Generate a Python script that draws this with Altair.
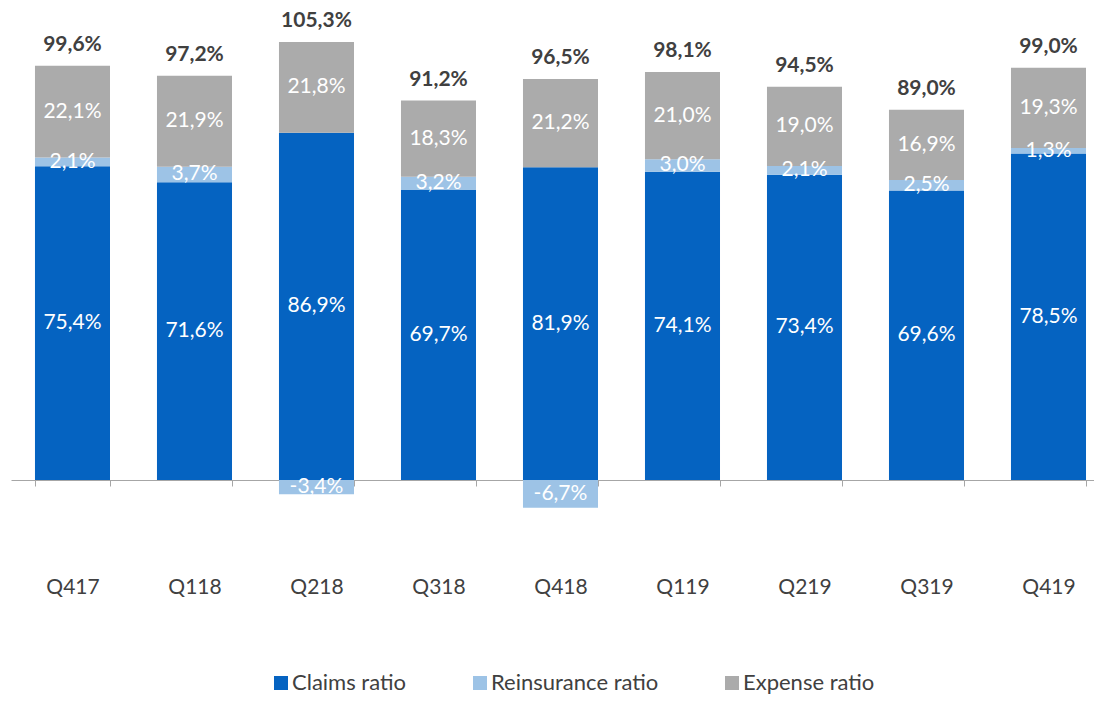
import altair as alt
import pandas as pd

quarters = ["Q417", "Q118", "Q218", "Q318", "Q418", "Q119", "Q219", "Q319", "Q419"]
claims = [75.4, 71.6, 86.9, 69.7, 81.9, 74.1, 73.4, 69.6, 78.5]
reinsurance = [2.1, 3.7, -3.4, 3.2, -6.7, 3.0, 2.1, 2.5, 1.3]
expense = [22.1, 21.9, 21.8, 18.3, 21.2, 21.0, 19.0, 16.9, 19.3]
totals = [99.6, 97.2, 105.3, 91.2, 96.5, 98.1, 94.5, 89.0, 99.0]

series_names = ["Claims ratio", "Reinsurance ratio", "Expense ratio"]
series_colors = ["#0563C1", "#9DC3E6", "#ABABAB"]


def fmt(v):
    return f"{v:.1f}".replace(".", ",") + "%"


rows = []
tot_rows = []
for i, q in enumerate(quarters):
    c, r, e = claims[i], reinsurance[i], expense[i]
    c_top = c + min(r, 0)
    rows.append(dict(q=q, series="Claims ratio", y0=0.0, y1=c_top, val=c))
    if r >= 0:
        r0, r1 = c_top, c_top + r
    else:
        r0, r1 = 0.0, r
    rows.append(dict(q=q, series="Reinsurance ratio", y0=r0, y1=r1, val=r))
    base = c_top + max(r, 0)
    rows.append(dict(q=q, series="Expense ratio", y0=base, y1=base + e, val=e))
    tot_rows.append(dict(q=q, top=base + e, label=fmt(totals[i])))

df = pd.DataFrame(rows)
df["mid"] = (df["y0"] + df["y1"]) / 2
df["label"] = df["val"].apply(fmt)
tdf = pd.DataFrame(tot_rows)

FONT = "Lato"
TXT = "#404040"

xscale = alt.Scale(paddingInner=0.385, paddingOuter=0.131, align=0.75)
yscale = alt.Scale(domain=[0, 113.46], nice=False, zero=False)

x_enc = alt.X(
    "q:N",
    sort=quarters,
    scale=xscale,
    axis=alt.Axis(
        title=None,
        labelAngle=0,
        tickBand="extent",
        domainColor="#A6A6A6",
        tickColor="#A6A6A6",
        tickSize=6,
        labelPadding=90,
        labelFont=FONT,
        labelFontSize=21,
        labelColor=TXT,
        grid=False,
    ),
)

bars = alt.Chart(df).mark_bar().encode(
    x=x_enc,
    y=alt.Y("y1:Q", scale=yscale, axis=None),
    y2="y0:Q",
    color=alt.Color(
        "series:N",
        scale=alt.Scale(domain=series_names, range=series_colors),
        legend=alt.Legend(
            title=None,
            orient="none",
            legendX=259,
            legendY=664,
            direction="horizontal",
            symbolType="square",
            symbolSize=196,
            symbolStrokeWidth=0,
            labelFont=FONT,
            labelFontSize=22,
            labelColor=TXT,
            labelLimit=400,
            columnPadding=62,
            labelOffset=0,
        ),
    ),
)

seg_labels = alt.Chart(df).mark_text(font=FONT, fontSize=21, color="white").encode(
    x=alt.X("q:N", sort=quarters),
    y=alt.Y("mid:Q"),
    text="label:N",
)

tot_labels = alt.Chart(tdf).mark_text(
    font=FONT, fontSize=21, fontWeight="bold", color=TXT, dy=-21
).encode(
    x=alt.X("q:N", sort=quarters),
    y=alt.Y("top:Q"),
    text="label:N",
)

chart = (
    alt.layer(bars, seg_labels, tot_labels)
    .properties(
        width=1083,
        height=472,
        padding={"left": 3, "top": 0, "right": 0, "bottom": 214},
        autosize=alt.AutoSizeParams(type="none"),
    )
    .configure_view(stroke=None)
)

chart.save("out.html", embed_options={"renderer": "svg", "actions": False})
